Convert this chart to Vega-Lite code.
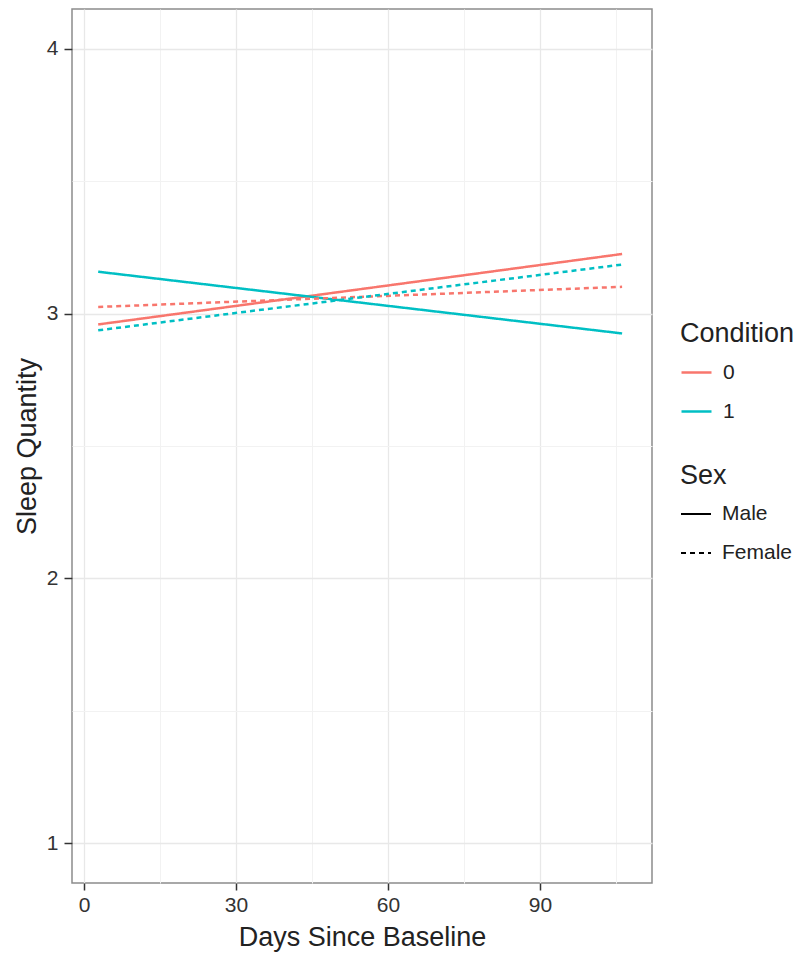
{
  "$schema": "https://vega.github.io/schema/vega-lite/v6.json",
  "autosize": "none",
  "width": 580,
  "height": 874,
  "padding": {"left": 72, "top": 9, "right": 153, "bottom": 73},
  "background": "white",
  "config": {
    "font": "Liberation Sans",
    "view": {"stroke": "#8c8c8c", "strokeWidth": 1.5},
    "axis": {"labelFont": "Liberation Sans", "titleFont": "Liberation Sans", "titleFontWeight": "normal"},
    "legend": {"labelFont": "Liberation Sans", "titleFont": "Liberation Sans", "titleFontWeight": "normal"}
  },
  "data": {
    "values": [
      {"Condition": "0", "Sex": "Male", "day": 2.8, "value": 2.959},
      {"Condition": "0", "Sex": "Male", "day": 106.2, "value": 3.225},
      {"Condition": "1", "Sex": "Male", "day": 2.8, "value": 3.158},
      {"Condition": "1", "Sex": "Male", "day": 106.2, "value": 2.925},
      {"Condition": "0", "Sex": "Female", "day": 2.8, "value": 3.025},
      {"Condition": "0", "Sex": "Female", "day": 106.2, "value": 3.101},
      {"Condition": "1", "Sex": "Female", "day": 2.8, "value": 2.937},
      {"Condition": "1", "Sex": "Female", "day": 106.2, "value": 3.185}
    ]
  },
  "resolve": {"axis": {"x": "independent", "y": "independent"}},
  "layer": [
    {
      "mark": {"type": "line", "opacity": 0},
      "encoding": {
        "x": {"field": "day", "type": "quantitative", "scale": {"domain": [-2.37, 112.1], "nice": false, "zero": false},
          "axis": {"values": [15, 45, 75, 105], "grid": true, "gridColor": "#f2f2f2", "gridWidth": 1, "labels": false, "ticks": false, "domain": false, "title": null, "orient": "top"}},
        "y": {"field": "value", "type": "quantitative", "scale": {"domain": [0.85, 4.15], "nice": false, "zero": false},
          "axis": {"values": [1.5, 2.5, 3.5], "grid": true, "gridColor": "#f2f2f2", "gridWidth": 1, "labels": false, "ticks": false, "domain": false, "title": null, "orient": "right"}},
        "detail": {"field": "Condition"}
      }
    },
    {
      "mark": {"type": "line", "strokeWidth": 2.5},
      "encoding": {
        "x": {"field": "day", "type": "quantitative", "scale": {"domain": [-2.37, 112.1], "nice": false, "zero": false},
          "axis": {"values": [0, 30, 60, 90], "grid": true, "gridColor": "#e8e8e8", "gridWidth": 1.3, "domain": false,
            "tickColor": "#333", "tickSize": 7, "tickWidth": 1.5, "labelFontSize": 21, "labelColor": "#333", "labelPadding": 4,
            "title": "Days Since Baseline", "titleFontSize": 27, "titleColor": "#222", "titlePadding": 9, "orient": "bottom"}},
        "y": {"field": "value", "type": "quantitative", "scale": {"domain": [0.85, 4.15], "nice": false, "zero": false},
          "axis": {"values": [1, 2, 3, 4], "grid": true, "gridColor": "#e8e8e8", "gridWidth": 1.3, "domain": false,
            "tickColor": "#333", "tickSize": 8, "tickWidth": 1.5, "labelFontSize": 21, "labelColor": "#333", "labelPadding": 6,
            "title": "Sleep Quantity", "titleFontSize": 27, "titleColor": "#222", "titlePadding": 5, "orient": "left"}},
        "color": {"field": "Condition", "type": "nominal",
          "scale": {"domain": ["0", "1"], "range": ["#F8766D", "#00BFC4"]},
          "legend": {"title": "Condition", "titleFontSize": 27, "titleColor": "#222", "labelFontSize": 21, "labelColor": "#222", "labelOffset": 10,
            "symbolType": "stroke", "symbolStrokeWidth": 2.5, "symbolSize": 900, "rowPadding": 12, "titlePadding": 8, "orient": "none", "legendX": 608, "legendY": 312}},
        "strokeDash": {"field": "Sex", "type": "nominal",
          "scale": {"domain": ["Male", "Female"], "range": [[1, 0], [5, 4]]},
          "legend": {"title": "Sex", "titleFontSize": 27, "titleColor": "#222", "labelFontSize": 21, "labelColor": "#222", "labelOffset": 10,
            "symbolType": "stroke", "symbolStrokeWidth": 2, "symbolStrokeColor": "black", "symbolSize": 900, "rowPadding": 13, "titlePadding": 8, "orient": "none", "legendX": 608, "legendY": 454}}
      }
    }
  ]
}
